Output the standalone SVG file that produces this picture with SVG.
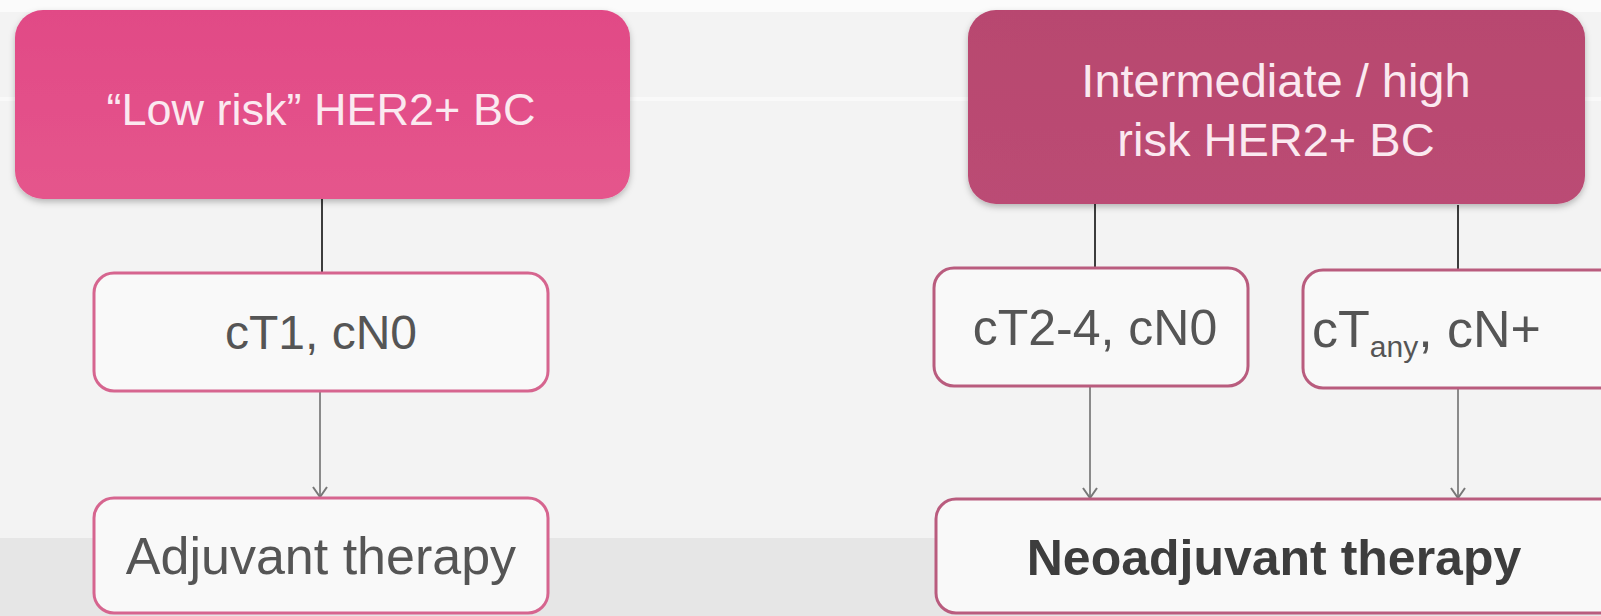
<svg xmlns="http://www.w3.org/2000/svg" width="1601" height="616" viewBox="0 0 1601 616">
  <defs>
    <linearGradient id="gLeft" x1="0" y1="0" x2="0" y2="1">
      <stop offset="0" stop-color="#e14a86"/>
      <stop offset="1" stop-color="#e5558c"/>
    </linearGradient>
    <linearGradient id="gRight" x1="0" y1="0" x2="0" y2="1">
      <stop offset="0" stop-color="#b8476f"/>
      <stop offset="1" stop-color="#bb4c74"/>
    </linearGradient>
    <filter id="shadow" x="-5%" y="-10%" width="110%" height="125%">
      <feDropShadow dx="0" dy="3" stdDeviation="3" flood-color="#000" flood-opacity="0.25"/>
    </filter>
    <marker id="arrowDown" viewBox="0 0 18 16" refX="9" refY="15" markerWidth="18" markerHeight="16" markerUnits="userSpaceOnUse" orient="0">
      <path d="M2 5 L9 15 L16 5" fill="none" stroke="#777777" stroke-width="2"/>
    </marker>
  </defs>
  <style>
    .top { font-family: "Liberation Sans", Arial, sans-serif; font-size: 45px; fill: #fbe9f0; text-anchor: middle; }
    .mid { font-family: "Liberation Sans", Arial, sans-serif; font-size: 48px; fill: #555555; text-anchor: middle; }
    .box { fill: #f9f9f9; stroke: #d6658f; stroke-width: 3; }
    .boxR { fill: #f9f9f9; stroke: #b95c7e; stroke-width: 3; }
    .link { stroke: #3c3c3c; stroke-width: 2; fill: none; }
    .arr { stroke: #8a8a8a; stroke-width: 2; fill: none; }
  </style>

  <!-- background -->
  <rect x="0" y="0" width="1601" height="616" fill="#f3f3f3"/>
  <rect x="0" y="0" width="1601" height="12" fill="#fbfbfb"/>
  <rect x="0" y="97" width="1601" height="4" fill="#ffffff" opacity="0.5"/>
  <rect x="0" y="538" width="1601" height="78" fill="#e6e6e6"/>

  <!-- connectors -->
  <g id="connectors">
    <line class="link" x1="322" y1="199" x2="322" y2="273"/>
    <line class="link" x1="1095" y1="204" x2="1095" y2="268"/>
    <line class="link" x1="1458" y1="205" x2="1458" y2="270"/>
    <line class="arr" x1="320" y1="391" x2="320" y2="497" marker-end="url(#arrowDown)"/>
    <line class="arr" x1="1090" y1="386" x2="1090" y2="498" marker-end="url(#arrowDown)"/>
    <line class="arr" x1="1458" y1="388" x2="1458" y2="498" marker-end="url(#arrowDown)"/>
  </g>

  <g id="node-low-risk">
    <rect x="15" y="10" width="615" height="189" rx="28" fill="url(#gLeft)" filter="url(#shadow)"/>
    <text class="top" x="321" y="125">“Low risk” HER2+ BC</text>
  </g>

  <g id="node-high-risk">
    <rect x="968" y="10" width="617" height="194" rx="28" fill="url(#gRight)" filter="url(#shadow)"/>
    <text class="top" x="1276" y="97" style="font-size:47px">Intermediate / high</text>
    <text class="top" x="1276" y="156" style="font-size:47px">risk HER2+ BC</text>
  </g>

  <g id="node-ct1">
    <rect class="box" x="94" y="273" width="454" height="118" rx="20"/>
    <text class="mid" x="321" y="349">cT1, cN0</text>
  </g>

  <g id="node-ct24">
    <rect class="boxR" x="934" y="268" width="314" height="118" rx="20"/>
    <text class="mid" x="1095" y="345" style="font-size:50px">cT2-4, cN0</text>
  </g>

  <g id="node-ctany">
    <rect class="boxR" x="1303" y="270" width="320" height="118" rx="20"/>
    <text class="mid" x="1312" y="347" style="text-anchor:start;font-size:52px">cT<tspan font-size="30" dy="10">any</tspan><tspan dy="-10">,  cN+</tspan></text>
  </g>

  <g id="node-adjuvant">
    <rect class="box" x="94" y="498" width="454" height="115" rx="20"/>
    <text class="mid" x="321" y="574" style="font-size:52px">Adjuvant therapy</text>
  </g>

  <g id="node-neoadjuvant">
    <rect class="boxR" x="936" y="499" width="690" height="114" rx="20"/>
    <text class="mid" x="1274" y="575" style="font-size:50px;font-weight:bold;fill:#3d3d3d">Neoadjuvant therapy</text>
  </g>
</svg>
